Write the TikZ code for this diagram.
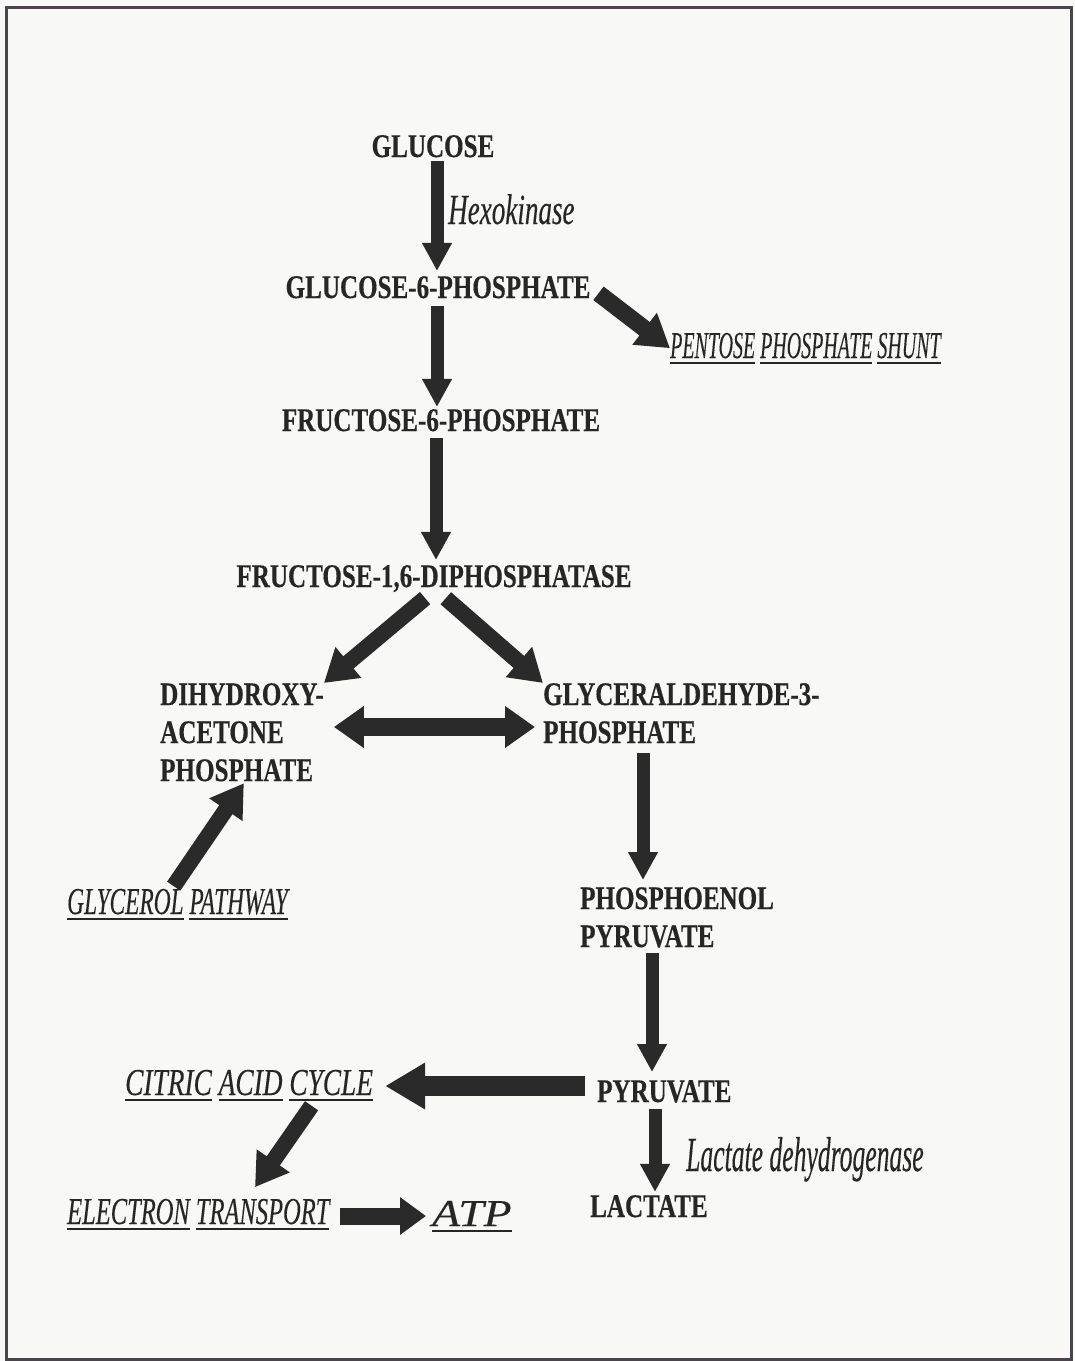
\documentclass[tikz,border=0pt]{standalone}
\usepackage{fontspec}
\usepackage{graphicx}
\usetikzlibrary{arrows.meta}
\newfontfamily\bcondf[FakeStretch=0.76,FakeBold=0.4]{Liberation Serif}
\newfontfamily\itserf[FakeBold=0.3]{Liberation Serif}
\newsavebox\uwbox
\newcommand\uw[1]{\sbox\uwbox{#1}\rlap{\vrule width\wd\uwbox height -3.6pt depth 5.6pt}\usebox\uwbox}
\definecolor{ink}{HTML}{262626}
\definecolor{arrowc}{HTML}{2A2A2A}
\definecolor{paper}{HTML}{F8F8F6}
\definecolor{framec}{HTML}{4A454A}
\tikzset{
  bt/.style={inner sep=0pt, text=ink, font=\bcondf\bfseries\fontsize{33}{38}\selectfont},
  btml/.style={bt, align=left, font=\bcondf\bfseries\fontsize{33}{38}\selectfont},
  itl/.style={inner sep=0pt, text=ink, font=\itserf\itshape\fontsize{38}{42}\selectfont},
  fatv/.style={draw=arrowc, line width=13pt, -{Triangle[width=28pt,length=28pt]}},
  fatd/.style={draw=arrowc, line width=16pt, -{Triangle[width=38pt,length=32pt]}},
  fath/.style={draw=arrowc, line width=20pt, -{Triangle[width=44pt,length=40pt]}},
  fatdbl/.style={draw=arrowc, line width=18pt, {Triangle[width=40pt,length=30pt]}-{Triangle[width=40pt,length=30pt]}},
  fate/.style={draw=arrowc, line width=17pt, -{Triangle[width=36pt,length=26pt]}}
}
\begin{document}
\begin{tikzpicture}[x=1pt,y=-1pt]
\useasboundingbox (0,0) rectangle (1075,1361);
\fill[paper] (0,0) rectangle (1075,1361);
\draw[framec, line width=3pt] (6,7) rectangle (1071,1359);

% column / row helper coordinates
\coordinate (c437) at (437,0);
\coordinate (c436) at (436,0);
\coordinate (c643) at (643,0);
\coordinate (c652) at (652,0);
\coordinate (c655) at (655,0);
\coordinate (c315) at (315,0);
\coordinate (c247) at (247,0);
\coordinate (c172) at (172,0);
\coordinate (c245) at (245,0);
\coordinate (c432) at (432,0);
\coordinate (c439) at (439,0);
\coordinate (r727) at (0,727);
\coordinate (r1086) at (0,1086);
\coordinate (r1216) at (0,1216);

% bold metabolite names
\node[bt, anchor=base] (glu) at (433,157) {GLUCOSE};
\node[bt, anchor=base] (g6p) at (438,298) {GLUCOSE-6-PHOSPHATE};
\node[bt, anchor=base] (f6p) at (441,431) {FRUCTOSE-6-PHOSPHATE};
\node[bt, anchor=base] (f16) at (434,587) {FRUCTOSE-1,6-DIPHOSPHATASE};
\node[btml, anchor=north west] (dhap) at (160,683) {DIHYDROXY-\\ACETONE\\PHOSPHATE};
\node[btml, anchor=north west] (g3p) at (543,683) {GLYCERALDEHYDE-3-\\PHOSPHATE};
\node[btml, anchor=north west] (pep) at (580,887) {PHOSPHOENOL\\PYRUVATE};
\node[bt, anchor=base west] (pyr) at (597,1102) {PYRUVATE};
\node[bt, anchor=base west] (lac) at (590,1217) {LACTATE};

% italic labels
\node[itl, anchor=base west, font=\itserf\itshape\fontsize{43}{47}\selectfont] (hexo) at (448,224) {\scalebox{0.63}[1]{Hexokinase}};
\node[itl, anchor=base west, font=\itserf\itshape\fontsize{49}{54}\selectfont] (ldh) at (686,1171) {\scalebox{0.523}[1]{Lactate dehydrogenase}};
\node[itl, anchor=base west] (pps) at (670,358) {\scalebox{0.525}[1]{\uw{PENTOSE} \uw{PHOSPHATE} \uw{SHUNT}}};
\node[itl, anchor=base west] (gly) at (67,914) {\scalebox{0.615}[1]{\uw{GLYCEROL} \uw{PATHWAY}}};
\node[itl, anchor=base west] (cac) at (125,1095) {\scalebox{0.72}[1]{\uw{CITRIC} \uw{ACID} \uw{CYCLE}}};
\node[itl, anchor=base west] (et) at (67,1224) {\scalebox{0.645}[1]{\uw{ELECTRON} \uw{TRANSPORT}}};
\node[itl, anchor=base west] (atp) at (432,1226) {\scalebox{1.2}[1]{\uw{ATP}}};

% connectors
\draw[fatv, shorten <=3pt, shorten >=5pt] (glu.south -| c437) -- (g6p.north -| c437);
\draw[fatv, shorten <=7pt, shorten >=2pt] (g6p.south -| c437) -- (f6p.north -| c437);
\draw[fatv, shorten <=6pt, shorten >=5pt] (f6p.south -| c436) -- (f16.north -| c436);
\draw[fatd, line width=17pt, shorten <=10pt, shorten >=0pt] (g6p.east) -- (pps.west);
\draw[fatd, shorten <=9pt, shorten >=0pt] (f16.south -| c432) -- (dhap.north east);
\draw[fatd, shorten <=9pt, shorten >=0pt] (f16.south -| c439) -- (g3p.north west);
\draw[fatdbl, shorten <=10pt, shorten >=8pt] (dhap.east |- r727) -- (g3p.west |- r727);
\draw[fatv, shorten <=9pt, shorten >=7pt] (g3p.south -| c643) -- (pep.north -| c643);
\draw[fatv, shorten <=5pt, shorten >=8pt] (pep.south -| c652) -- (pyr.north -| c652);
\draw[fath, shorten <=12pt, shorten >=12pt] (pyr.west |- r1086) -- (cac.east |- r1086);
\draw[fatv, shorten <=6pt, shorten >=3pt] (pyr.south -| c655) -- (lac.north -| c655);
\draw[fatd, shorten <=6pt, shorten >=14pt] (cac.south -| c315) -- (et.north -| c247);
\draw[fate, shorten <=10pt, shorten >=6pt] (et.east |- r1216) -- (atp.west |- r1216);
\draw[fatd, shorten <=3pt, shorten >=2pt] (gly.north -| c172) -- (dhap.south -| c245);
\end{tikzpicture}
\end{document}
